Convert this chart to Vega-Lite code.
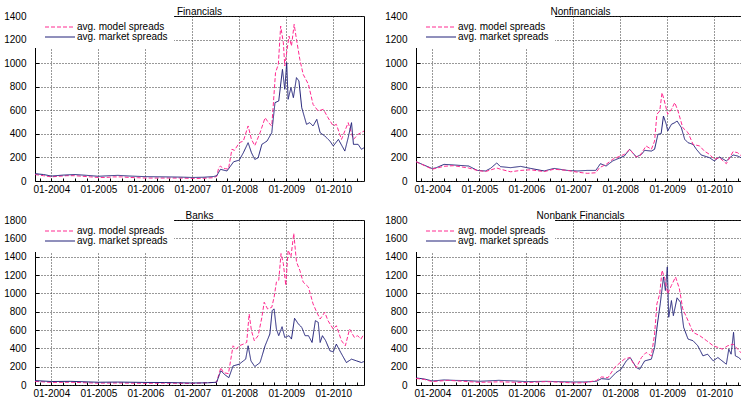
{
"$schema": "https://vega.github.io/schema/vega-lite/v6.json",
"padding": {"left": 3, "top": 6, "right": 0, "bottom": 0},
"datasets": {"d": [
{"p":"F","s":"m","d":"2003-08-27","v":55},{"p":"F","s":"m","d":"2003-11-01","v":45},{"p":"F","s":"m","d":"2004-01-01","v":35},{"p":"F","s":"m","d":"2004-03-01","v":40},{"p":"F","s":"m","d":"2004-05-01","v":45},{"p":"F","s":"m","d":"2004-07-01","v":45},{"p":"F","s":"m","d":"2004-09-01","v":40},{"p":"F","s":"m","d":"2004-11-01","v":35},{"p":"F","s":"m","d":"2005-01-01","v":30},{"p":"F","s":"m","d":"2005-03-01","v":30},{"p":"F","s":"m","d":"2005-05-01","v":35},{"p":"F","s":"m","d":"2005-07-01","v":35},{"p":"F","s":"m","d":"2005-09-01","v":30},{"p":"F","s":"m","d":"2005-11-01","v":28},{"p":"F","s":"m","d":"2006-01-01","v":25},{"p":"F","s":"m","d":"2006-04-01","v":25},{"p":"F","s":"m","d":"2006-07-01","v":25},{"p":"F","s":"m","d":"2006-10-01","v":25},{"p":"F","s":"m","d":"2007-01-01","v":22},{"p":"F","s":"m","d":"2007-03-01","v":22},{"p":"F","s":"m","d":"2007-05-01","v":25},{"p":"F","s":"m","d":"2007-06-15","v":28},{"p":"F","s":"m","d":"2007-07-10","v":40},{"p":"F","s":"m","d":"2007-07-25","v":110},{"p":"F","s":"m","d":"2007-08-08","v":127},{"p":"F","s":"m","d":"2007-08-25","v":110},{"p":"F","s":"m","d":"2007-09-15","v":105},{"p":"F","s":"m","d":"2007-10-09","v":100},{"p":"F","s":"m","d":"2007-11-05","v":269},{"p":"F","s":"m","d":"2007-11-25","v":260},{"p":"F","s":"m","d":"2008-01-01","v":325},{"p":"F","s":"m","d":"2008-02-02","v":339},{"p":"F","s":"m","d":"2008-03-10","v":467},{"p":"F","s":"m","d":"2008-04-05","v":353},{"p":"F","s":"m","d":"2008-05-01","v":300},{"p":"F","s":"m","d":"2008-06-11","v":410},{"p":"F","s":"m","d":"2008-07-20","v":537},{"p":"F","s":"m","d":"2008-08-15","v":495},{"p":"F","s":"m","d":"2008-09-10","v":467},{"p":"F","s":"m","d":"2008-09-21","v":636},{"p":"F","s":"m","d":"2008-10-09","v":919},{"p":"F","s":"m","d":"2008-10-31","v":990},{"p":"F","s":"m","d":"2008-11-18","v":1315},{"p":"F","s":"m","d":"2008-12-09","v":1173},{"p":"F","s":"m","d":"2008-12-20","v":976},{"p":"F","s":"m","d":"2009-01-22","v":1230},{"p":"F","s":"m","d":"2009-02-10","v":1145},{"p":"F","s":"m","d":"2009-03-03","v":1329},{"p":"F","s":"m","d":"2009-03-21","v":1202},{"p":"F","s":"m","d":"2009-04-16","v":1032},{"p":"F","s":"m","d":"2009-05-12","v":905},{"p":"F","s":"m","d":"2009-06-22","v":820},{"p":"F","s":"m","d":"2009-07-28","v":650},{"p":"F","s":"m","d":"2009-09-06","v":594},{"p":"F","s":"m","d":"2009-10-16","v":608},{"p":"F","s":"m","d":"2009-11-21","v":537},{"p":"F","s":"m","d":"2010-01-01","v":467},{"p":"F","s":"m","d":"2010-01-25","v":481},{"p":"F","s":"m","d":"2010-03-06","v":353},{"p":"F","s":"m","d":"2010-04-27","v":495},{"p":"F","s":"m","d":"2010-06-07","v":353},{"p":"F","s":"m","d":"2010-07-13","v":396},{"p":"F","s":"m","d":"2010-08-28","v":424},
{"p":"F","s":"k","d":"2003-08-27","v":62},{"p":"F","s":"k","d":"2003-11-01","v":55},{"p":"F","s":"k","d":"2004-01-01","v":42},{"p":"F","s":"k","d":"2004-04-01","v":50},{"p":"F","s":"k","d":"2004-07-01","v":55},{"p":"F","s":"k","d":"2004-10-01","v":48},{"p":"F","s":"k","d":"2005-01-01","v":40},{"p":"F","s":"k","d":"2005-04-01","v":45},{"p":"F","s":"k","d":"2005-06-01","v":48},{"p":"F","s":"k","d":"2005-09-01","v":42},{"p":"F","s":"k","d":"2006-01-01","v":37},{"p":"F","s":"k","d":"2006-06-01","v":35},{"p":"F","s":"k","d":"2006-10-01","v":33},{"p":"F","s":"k","d":"2007-01-01","v":30},{"p":"F","s":"k","d":"2007-04-01","v":32},{"p":"F","s":"k","d":"2007-06-15","v":38},{"p":"F","s":"k","d":"2007-07-10","v":45},{"p":"F","s":"k","d":"2007-08-08","v":99},{"p":"F","s":"k","d":"2007-09-28","v":85},{"p":"F","s":"k","d":"2007-11-18","v":163},{"p":"F","s":"k","d":"2008-01-01","v":177},{"p":"F","s":"k","d":"2008-02-02","v":240},{"p":"F","s":"k","d":"2008-03-10","v":325},{"p":"F","s":"k","d":"2008-04-05","v":240},{"p":"F","s":"k","d":"2008-05-01","v":183},{"p":"F","s":"k","d":"2008-05-27","v":197},{"p":"F","s":"k","d":"2008-06-25","v":311},{"p":"F","s":"k","d":"2008-08-04","v":339},{"p":"F","s":"k","d":"2008-09-10","v":410},{"p":"F","s":"k","d":"2008-10-05","v":665},{"p":"F","s":"k","d":"2008-11-03","v":679},{"p":"F","s":"k","d":"2008-12-02","v":947},{"p":"F","s":"k","d":"2008-12-20","v":778},{"p":"F","s":"k","d":"2009-01-04","v":1004},{"p":"F","s":"k","d":"2009-01-15","v":693},{"p":"F","s":"k","d":"2009-02-06","v":792},{"p":"F","s":"k","d":"2009-02-25","v":707},{"p":"F","s":"k","d":"2009-03-21","v":877},{"p":"F","s":"k","d":"2009-04-09","v":849},{"p":"F","s":"k","d":"2009-05-01","v":622},{"p":"F","s":"k","d":"2009-06-07","v":481},{"p":"F","s":"k","d":"2009-07-02","v":495},{"p":"F","s":"k","d":"2009-07-28","v":467},{"p":"F","s":"k","d":"2009-08-26","v":523},{"p":"F","s":"k","d":"2009-09-21","v":410},{"p":"F","s":"k","d":"2009-10-27","v":382},{"p":"F","s":"k","d":"2009-12-06","v":339},{"p":"F","s":"k","d":"2010-01-01","v":297},{"p":"F","s":"k","d":"2010-02-10","v":353},{"p":"F","s":"k","d":"2010-04-01","v":254},{"p":"F","s":"k","d":"2010-04-27","v":368},{"p":"F","s":"k","d":"2010-05-23","v":495},{"p":"F","s":"k","d":"2010-06-07","v":311},{"p":"F","s":"k","d":"2010-07-13","v":311},{"p":"F","s":"k","d":"2010-08-08","v":269},{"p":"F","s":"k","d":"2010-08-28","v":282},
{"p":"N","s":"k","d":"2003-08-27","v":164},{"p":"N","s":"k","d":"2004-01-01","v":105},{"p":"N","s":"k","d":"2004-02-01","v":113},{"p":"N","s":"k","d":"2004-04-01","v":141},{"p":"N","s":"k","d":"2004-06-15","v":136},{"p":"N","s":"k","d":"2004-10-10","v":127},{"p":"N","s":"k","d":"2004-12-15","v":90},{"p":"N","s":"k","d":"2005-02-17","v":85},{"p":"N","s":"k","d":"2005-03-28","v":107},{"p":"N","s":"k","d":"2005-05-16","v":153},{"p":"N","s":"k","d":"2005-06-14","v":122},{"p":"N","s":"k","d":"2005-09-01","v":113},{"p":"N","s":"k","d":"2005-11-18","v":124},{"p":"N","s":"k","d":"2006-02-02","v":107},{"p":"N","s":"k","d":"2006-05-20","v":85},{"p":"N","s":"k","d":"2006-08-04","v":107},{"p":"N","s":"k","d":"2006-11-14","v":90},{"p":"N","s":"k","d":"2007-02-02","v":85},{"p":"N","s":"k","d":"2007-04-20","v":90},{"p":"N","s":"k","d":"2007-06-25","v":90},{"p":"N","s":"k","d":"2007-07-31","v":147},{"p":"N","s":"k","d":"2007-09-13","v":127},{"p":"N","s":"k","d":"2007-11-03","v":170},{"p":"N","s":"k","d":"2008-01-01","v":198},{"p":"N","s":"k","d":"2008-02-02","v":212},{"p":"N","s":"k","d":"2008-03-14","v":269},{"p":"N","s":"k","d":"2008-05-05","v":204},{"p":"N","s":"k","d":"2008-06-14","v":226},{"p":"N","s":"k","d":"2008-07-09","v":260},{"p":"N","s":"k","d":"2008-08-30","v":254},{"p":"N","s":"k","d":"2008-09-24","v":269},{"p":"N","s":"k","d":"2008-10-20","v":396},{"p":"N","s":"k","d":"2008-11-14","v":402},{"p":"N","s":"k","d":"2008-12-02","v":551},{"p":"N","s":"k","d":"2008-12-24","v":481},{"p":"N","s":"k","d":"2009-01-04","v":424},{"p":"N","s":"k","d":"2009-02-02","v":481},{"p":"N","s":"k","d":"2009-02-28","v":495},{"p":"N","s":"k","d":"2009-03-18","v":509},{"p":"N","s":"k","d":"2009-04-20","v":453},{"p":"N","s":"k","d":"2009-05-16","v":354},{"p":"N","s":"k","d":"2009-06-11","v":325},{"p":"N","s":"k","d":"2009-07-20","v":311},{"p":"N","s":"k","d":"2009-08-15","v":269},{"p":"N","s":"k","d":"2009-09-21","v":221},{"p":"N","s":"k","d":"2009-11-25","v":198},{"p":"N","s":"k","d":"2010-01-01","v":170},{"p":"N","s":"k","d":"2010-02-10","v":204},{"p":"N","s":"k","d":"2010-04-05","v":170},{"p":"N","s":"k","d":"2010-05-27","v":221},{"p":"N","s":"k","d":"2010-07-02","v":212},{"p":"N","s":"k","d":"2010-08-08","v":192},{"p":"N","s":"k","d":"2010-08-28","v":195},
{"p":"N","s":"m","d":"2003-08-27","v":164},{"p":"N","s":"m","d":"2004-01-01","v":100},{"p":"N","s":"m","d":"2004-04-01","v":125},{"p":"N","s":"m","d":"2004-06-15","v":130},{"p":"N","s":"m","d":"2004-10-10","v":110},{"p":"N","s":"m","d":"2004-12-15","v":90},{"p":"N","s":"m","d":"2005-02-17","v":80},{"p":"N","s":"m","d":"2005-05-16","v":110},{"p":"N","s":"m","d":"2005-06-14","v":100},{"p":"N","s":"m","d":"2005-09-01","v":78},{"p":"N","s":"m","d":"2005-11-18","v":90},{"p":"N","s":"m","d":"2006-02-02","v":95},{"p":"N","s":"m","d":"2006-05-20","v":80},{"p":"N","s":"m","d":"2006-08-04","v":100},{"p":"N","s":"m","d":"2006-11-14","v":90},{"p":"N","s":"m","d":"2007-02-02","v":75},{"p":"N","s":"m","d":"2007-04-20","v":65},{"p":"N","s":"m","d":"2007-06-25","v":70},{"p":"N","s":"m","d":"2007-07-24","v":113},{"p":"N","s":"m","d":"2007-09-13","v":141},{"p":"N","s":"m","d":"2007-11-03","v":184},{"p":"N","s":"m","d":"2008-01-01","v":212},{"p":"N","s":"m","d":"2008-02-02","v":226},{"p":"N","s":"m","d":"2008-03-14","v":269},{"p":"N","s":"m","d":"2008-05-05","v":204},{"p":"N","s":"m","d":"2008-05-31","v":212},{"p":"N","s":"m","d":"2008-07-20","v":297},{"p":"N","s":"m","d":"2008-08-30","v":269},{"p":"N","s":"m","d":"2008-09-24","v":339},{"p":"N","s":"m","d":"2008-10-12","v":566},{"p":"N","s":"m","d":"2008-11-03","v":594},{"p":"N","s":"m","d":"2008-11-21","v":749},{"p":"N","s":"m","d":"2008-12-09","v":679},{"p":"N","s":"m","d":"2009-01-04","v":566},{"p":"N","s":"m","d":"2009-02-02","v":608},{"p":"N","s":"m","d":"2009-02-28","v":665},{"p":"N","s":"m","d":"2009-03-25","v":594},{"p":"N","s":"m","d":"2009-05-01","v":453},{"p":"N","s":"m","d":"2009-06-11","v":410},{"p":"N","s":"m","d":"2009-07-20","v":311},{"p":"N","s":"m","d":"2009-09-10","v":297},{"p":"N","s":"m","d":"2009-10-16","v":254},{"p":"N","s":"m","d":"2009-11-25","v":226},{"p":"N","s":"m","d":"2010-01-01","v":184},{"p":"N","s":"m","d":"2010-02-10","v":198},{"p":"N","s":"m","d":"2010-04-05","v":147},{"p":"N","s":"m","d":"2010-05-27","v":249},{"p":"N","s":"m","d":"2010-07-02","v":240},{"p":"N","s":"m","d":"2010-08-08","v":204},{"p":"N","s":"m","d":"2010-08-28","v":200},
{"p":"B","s":"m","d":"2003-08-27","v":40},{"p":"B","s":"m","d":"2004-01-01","v":28},{"p":"B","s":"m","d":"2004-06-01","v":30},{"p":"B","s":"m","d":"2005-01-01","v":20},{"p":"B","s":"m","d":"2005-06-01","v":22},{"p":"B","s":"m","d":"2006-01-01","v":18},{"p":"B","s":"m","d":"2006-06-01","v":20},{"p":"B","s":"m","d":"2007-01-01","v":17},{"p":"B","s":"m","d":"2007-05-01","v":25},{"p":"B","s":"m","d":"2007-07-09","v":30},{"p":"B","s":"m","d":"2007-08-11","v":190},{"p":"B","s":"m","d":"2007-08-30","v":135},{"p":"B","s":"m","d":"2007-10-09","v":124},{"p":"B","s":"m","d":"2007-11-14","v":428},{"p":"B","s":"m","d":"2007-12-09","v":391},{"p":"B","s":"m","d":"2008-01-01","v":428},{"p":"B","s":"m","d":"2008-02-02","v":446},{"p":"B","s":"m","d":"2008-02-28","v":464},{"p":"B","s":"m","d":"2008-03-18","v":775},{"p":"B","s":"m","d":"2008-04-05","v":592},{"p":"B","s":"m","d":"2008-04-27","v":483},{"p":"B","s":"m","d":"2008-05-27","v":538},{"p":"B","s":"m","d":"2008-06-25","v":739},{"p":"B","s":"m","d":"2008-07-13","v":903},{"p":"B","s":"m","d":"2008-08-08","v":830},{"p":"B","s":"m","d":"2008-09-10","v":848},{"p":"B","s":"m","d":"2008-09-28","v":958},{"p":"B","s":"m","d":"2008-10-16","v":1123},{"p":"B","s":"m","d":"2008-11-03","v":1141},{"p":"B","s":"m","d":"2008-11-21","v":1434},{"p":"B","s":"m","d":"2008-12-09","v":1324},{"p":"B","s":"m","d":"2008-12-28","v":1086},{"p":"B","s":"m","d":"2009-01-15","v":1471},{"p":"B","s":"m","d":"2009-02-06","v":1398},{"p":"B","s":"m","d":"2009-02-28","v":1654},{"p":"B","s":"m","d":"2009-03-21","v":1343},{"p":"B","s":"m","d":"2009-04-16","v":1251},{"p":"B","s":"m","d":"2009-05-12","v":1123},{"p":"B","s":"m","d":"2009-06-22","v":1068},{"p":"B","s":"m","d":"2009-07-28","v":885},{"p":"B","s":"m","d":"2009-08-26","v":793},{"p":"B","s":"m","d":"2009-09-21","v":720},{"p":"B","s":"m","d":"2009-10-27","v":793},{"p":"B","s":"m","d":"2009-11-21","v":702},{"p":"B","s":"m","d":"2010-01-01","v":610},{"p":"B","s":"m","d":"2010-01-25","v":647},{"p":"B","s":"m","d":"2010-03-06","v":483},{"p":"B","s":"m","d":"2010-04-05","v":428},{"p":"B","s":"m","d":"2010-05-08","v":610},{"p":"B","s":"m","d":"2010-06-14","v":519},{"p":"B","s":"m","d":"2010-07-09","v":538},{"p":"B","s":"m","d":"2010-08-04","v":501},{"p":"B","s":"m","d":"2010-08-28","v":556},
{"p":"B","s":"k","d":"2003-08-27","v":48},{"p":"B","s":"k","d":"2004-01-01","v":38},{"p":"B","s":"k","d":"2004-06-01","v":40},{"p":"B","s":"k","d":"2005-01-01","v":30},{"p":"B","s":"k","d":"2005-06-01","v":32},{"p":"B","s":"k","d":"2006-01-01","v":28},{"p":"B","s":"k","d":"2006-06-01","v":27},{"p":"B","s":"k","d":"2007-01-01","v":22},{"p":"B","s":"k","d":"2007-05-01","v":24},{"p":"B","s":"k","d":"2007-07-09","v":30},{"p":"B","s":"k","d":"2007-08-11","v":154},{"p":"B","s":"k","d":"2007-09-13","v":110},{"p":"B","s":"k","d":"2007-10-12","v":80},{"p":"B","s":"k","d":"2007-11-14","v":208},{"p":"B","s":"k","d":"2008-01-01","v":227},{"p":"B","s":"k","d":"2008-02-02","v":263},{"p":"B","s":"k","d":"2008-02-20","v":282},{"p":"B","s":"k","d":"2008-03-10","v":428},{"p":"B","s":"k","d":"2008-04-01","v":263},{"p":"B","s":"k","d":"2008-05-01","v":201},{"p":"B","s":"k","d":"2008-06-11","v":245},{"p":"B","s":"k","d":"2008-07-20","v":428},{"p":"B","s":"k","d":"2008-08-26","v":556},{"p":"B","s":"k","d":"2008-09-13","v":812},{"p":"B","s":"k","d":"2008-09-28","v":830},{"p":"B","s":"k","d":"2008-10-16","v":610},{"p":"B","s":"k","d":"2008-11-03","v":538},{"p":"B","s":"k","d":"2008-11-29","v":636},{"p":"B","s":"k","d":"2008-12-20","v":519},{"p":"B","s":"k","d":"2009-01-22","v":538},{"p":"B","s":"k","d":"2009-02-10","v":501},{"p":"B","s":"k","d":"2009-03-06","v":728},{"p":"B","s":"k","d":"2009-04-05","v":665},{"p":"B","s":"k","d":"2009-05-01","v":629},{"p":"B","s":"k","d":"2009-05-27","v":538},{"p":"B","s":"k","d":"2009-06-22","v":538},{"p":"B","s":"k","d":"2009-07-20","v":464},{"p":"B","s":"k","d":"2009-08-15","v":702},{"p":"B","s":"k","d":"2009-09-06","v":684},{"p":"B","s":"k","d":"2009-09-21","v":464},{"p":"B","s":"k","d":"2009-10-09","v":538},{"p":"B","s":"k","d":"2009-11-03","v":483},{"p":"B","s":"k","d":"2009-12-06","v":373},{"p":"B","s":"k","d":"2010-01-01","v":362},{"p":"B","s":"k","d":"2010-01-25","v":446},{"p":"B","s":"k","d":"2010-02-28","v":355},{"p":"B","s":"k","d":"2010-04-13","v":245},{"p":"B","s":"k","d":"2010-05-23","v":282},{"p":"B","s":"k","d":"2010-07-02","v":263},{"p":"B","s":"k","d":"2010-08-08","v":245},{"p":"B","s":"k","d":"2010-08-28","v":256},
{"p":"O","s":"k","d":"2003-08-27","v":77},{"p":"O","s":"k","d":"2003-11-01","v":65},{"p":"O","s":"k","d":"2004-01-01","v":44},{"p":"O","s":"k","d":"2004-04-01","v":55},{"p":"O","s":"k","d":"2004-07-01","v":50},{"p":"O","s":"k","d":"2004-10-01","v":48},{"p":"O","s":"k","d":"2005-01-01","v":40},{"p":"O","s":"k","d":"2005-06-01","v":51},{"p":"O","s":"k","d":"2005-10-01","v":44},{"p":"O","s":"k","d":"2006-01-01","v":37},{"p":"O","s":"k","d":"2006-06-01","v":40},{"p":"O","s":"k","d":"2006-10-01","v":36},{"p":"O","s":"k","d":"2007-01-01","v":33},{"p":"O","s":"k","d":"2007-04-01","v":33},{"p":"O","s":"k","d":"2007-06-29","v":40},{"p":"O","s":"k","d":"2007-08-08","v":69},{"p":"O","s":"k","d":"2007-10-09","v":62},{"p":"O","s":"k","d":"2007-11-29","v":135},{"p":"O","s":"k","d":"2008-01-08","v":172},{"p":"O","s":"k","d":"2008-02-17","v":263},{"p":"O","s":"k","d":"2008-03-18","v":300},{"p":"O","s":"k","d":"2008-05-05","v":190},{"p":"O","s":"k","d":"2008-05-31","v":172},{"p":"O","s":"k","d":"2008-07-09","v":263},{"p":"O","s":"k","d":"2008-08-30","v":282},{"p":"O","s":"k","d":"2008-09-24","v":410},{"p":"O","s":"k","d":"2008-10-16","v":665},{"p":"O","s":"k","d":"2008-11-07","v":885},{"p":"O","s":"k","d":"2008-12-02","v":1178},{"p":"O","s":"k","d":"2008-12-17","v":1031},{"p":"O","s":"k","d":"2009-01-01","v":1288},{"p":"O","s":"k","d":"2009-01-12","v":739},{"p":"O","s":"k","d":"2009-02-02","v":921},{"p":"O","s":"k","d":"2009-02-17","v":757},{"p":"O","s":"k","d":"2009-03-18","v":951},{"p":"O","s":"k","d":"2009-04-13","v":903},{"p":"O","s":"k","d":"2009-05-08","v":629},{"p":"O","s":"k","d":"2009-06-11","v":501},{"p":"O","s":"k","d":"2009-07-20","v":483},{"p":"O","s":"k","d":"2009-08-26","v":428},{"p":"O","s":"k","d":"2009-10-05","v":318},{"p":"O","s":"k","d":"2009-11-10","v":336},{"p":"O","s":"k","d":"2009-12-24","v":263},{"p":"O","s":"k","d":"2010-01-29","v":300},{"p":"O","s":"k","d":"2010-03-03","v":263},{"p":"O","s":"k","d":"2010-04-05","v":227},{"p":"O","s":"k","d":"2010-04-24","v":391},{"p":"O","s":"k","d":"2010-05-12","v":336},{"p":"O","s":"k","d":"2010-05-31","v":574},{"p":"O","s":"k","d":"2010-06-14","v":318},{"p":"O","s":"k","d":"2010-07-09","v":300},{"p":"O","s":"k","d":"2010-08-08","v":263},{"p":"O","s":"k","d":"2010-08-28","v":255},
{"p":"O","s":"m","d":"2003-08-27","v":72},{"p":"O","s":"m","d":"2003-11-01","v":60},{"p":"O","s":"m","d":"2004-01-01","v":37},{"p":"O","s":"m","d":"2004-05-01","v":51},{"p":"O","s":"m","d":"2004-09-01","v":40},{"p":"O","s":"m","d":"2005-01-01","v":29},{"p":"O","s":"m","d":"2005-06-01","v":35},{"p":"O","s":"m","d":"2005-10-01","v":30},{"p":"O","s":"m","d":"2006-01-01","v":26},{"p":"O","s":"m","d":"2006-06-01","v":37},{"p":"O","s":"m","d":"2006-10-01","v":30},{"p":"O","s":"m","d":"2007-01-01","v":22},{"p":"O","s":"m","d":"2007-04-01","v":25},{"p":"O","s":"m","d":"2007-06-29","v":49},{"p":"O","s":"m","d":"2007-08-08","v":88},{"p":"O","s":"m","d":"2007-09-28","v":80},{"p":"O","s":"m","d":"2007-11-18","v":190},{"p":"O","s":"m","d":"2008-01-01","v":245},{"p":"O","s":"m","d":"2008-02-02","v":282},{"p":"O","s":"m","d":"2008-03-14","v":300},{"p":"O","s":"m","d":"2008-05-05","v":190},{"p":"O","s":"m","d":"2008-06-14","v":300},{"p":"O","s":"m","d":"2008-07-20","v":355},{"p":"O","s":"m","d":"2008-08-30","v":318},{"p":"O","s":"m","d":"2008-09-24","v":556},{"p":"O","s":"m","d":"2008-10-12","v":885},{"p":"O","s":"m","d":"2008-11-03","v":995},{"p":"O","s":"m","d":"2008-11-21","v":1251},{"p":"O","s":"m","d":"2008-12-13","v":1160},{"p":"O","s":"m","d":"2009-01-04","v":995},{"p":"O","s":"m","d":"2009-02-02","v":1086},{"p":"O","s":"m","d":"2009-03-06","v":1178},{"p":"O","s":"m","d":"2009-04-05","v":1050},{"p":"O","s":"m","d":"2009-05-01","v":830},{"p":"O","s":"m","d":"2009-06-11","v":702},{"p":"O","s":"m","d":"2009-07-20","v":574},{"p":"O","s":"m","d":"2009-09-10","v":538},{"p":"O","s":"m","d":"2009-11-03","v":483},{"p":"O","s":"m","d":"2009-12-24","v":428},{"p":"O","s":"m","d":"2010-01-29","v":410},{"p":"O","s":"m","d":"2010-03-06","v":391},{"p":"O","s":"m","d":"2010-04-16","v":428},{"p":"O","s":"m","d":"2010-05-27","v":446},{"p":"O","s":"m","d":"2010-07-02","v":391},{"p":"O","s":"m","d":"2010-08-08","v":336},{"p":"O","s":"m","d":"2010-08-28","v":320}
]},
"data": {"name": "d"},
"config": {
  "font": "Liberation Sans",
  "view": {"stroke": "black", "strokeWidth": 1},
  "title": {"font": "Liberation Sans", "fontSize": 10, "fontWeight": "normal", "color": "black", "offset": -6, "frame": "group"},
  "axis": {"labelFont": "Liberation Sans", "labelFontSize": 10, "labelColor": "black", "domain": false, "tickColor": "black", "grid": true, "gridColor": "#333", "gridDash": [1, 2], "labelOverlap": false, "labelBound": false, "labelFlush": false, "title": null},
  "legend": {"orient": "top-left", "offset": 0, "fillColor": "white", "padding": 6, "symbolType": "M-3.75,0H3.75", "symbolSize": 64, "symbolStrokeWidth": 1, "labelFont": "Liberation Sans", "labelFontSize": 10, "labelColor": "black", "rowPadding": -2, "symbolOffset": 14, "labelOffset": 12, "title": null}
},
"columns": 2,
"spacing": {"row": 39, "column": 52},
"bounds": "flush",
"resolve": {"scale": {"x": "independent", "y": "independent", "color": "independent", "strokeDash": "independent"}, "legend": {"color": "independent", "strokeDash": "independent"}},
"concat": [
  {"width": 329, "height": 165, "title": "Financials",
   "transform": [{"filter": "datum.p == 'F'"}],
   "mark": {"type": "line", "strokeWidth": 1, "clip": true},
   "encoding": {
    "x": {"field": "d", "type": "temporal", "scale": {"type": "utc", "domain": [{"year": 2003, "month": 8, "date": 27, "utc": true}, {"year": 2010, "month": 8, "date": 28, "utc": true}]}, "axis": {"tickCount": {"interval": "month", "step": 3}, "labelExpr": "utcmonth(datum.value) == 0 ? utcFormat(datum.value, '%m-%Y') : ''", "gridOpacity": {"condition": {"test": "utcmonth(datum.value) == 0", "value": 1}, "value": 0}, "tickSize": -3, "labelPadding": 6}},
    "y": {"field": "v", "type": "quantitative", "scale": {"domain": [0, 1400]}, "axis": {"values": [0, 200, 400, 600, 800, 1000, 1200, 1400], "format": "d", "tickSize": -4, "labelPadding": 13}},
    "color": {"field": "s", "type": "nominal", "scale": {"domain": ["m", "k"], "range": ["#ff2a90", "#202078"]}, "legend": {"labelExpr": "datum.label == 'm' ? 'avg. model spreads' : 'avg. market spreads'"}},
    "strokeDash": {"field": "s", "type": "nominal", "scale": {"domain": ["m", "k"], "range": [[4, 2], [1, 0]]}, "legend": {"labelExpr": "datum.label == 'm' ? 'avg. model spreads' : 'avg. market spreads'"}}
   }},
  {"width": 329, "height": 165, "title": "Nonfinancials",
   "transform": [{"filter": "datum.p == 'N'"}],
   "mark": {"type": "line", "strokeWidth": 1, "clip": true},
   "encoding": {
    "x": {"field": "d", "type": "temporal", "scale": {"type": "utc", "domain": [{"year": 2003, "month": 8, "date": 27, "utc": true}, {"year": 2010, "month": 8, "date": 28, "utc": true}]}, "axis": {"tickCount": {"interval": "month", "step": 3}, "labelExpr": "utcmonth(datum.value) == 0 ? utcFormat(datum.value, '%m-%Y') : ''", "gridOpacity": {"condition": {"test": "utcmonth(datum.value) == 0", "value": 1}, "value": 0}, "tickSize": -3, "labelPadding": 6}},
    "y": {"field": "v", "type": "quantitative", "scale": {"domain": [0, 1400]}, "axis": {"values": [0, 200, 400, 600, 800, 1000, 1200, 1400], "format": "d", "tickSize": -4, "labelPadding": 13}},
    "color": {"field": "s", "type": "nominal", "scale": {"domain": ["m", "k"], "range": ["#ff2a90", "#202078"]}, "legend": {"labelExpr": "datum.label == 'm' ? 'avg. model spreads' : 'avg. market spreads'"}},
    "strokeDash": {"field": "s", "type": "nominal", "scale": {"domain": ["m", "k"], "range": [[4, 2], [1, 0]]}, "legend": {"labelExpr": "datum.label == 'm' ? 'avg. model spreads' : 'avg. market spreads'"}}
   }},
  {"width": 329, "height": 165, "title": "Banks",
   "transform": [{"filter": "datum.p == 'B'"}],
   "mark": {"type": "line", "strokeWidth": 1, "clip": true},
   "encoding": {
    "x": {"field": "d", "type": "temporal", "scale": {"type": "utc", "domain": [{"year": 2003, "month": 8, "date": 27, "utc": true}, {"year": 2010, "month": 8, "date": 28, "utc": true}]}, "axis": {"tickCount": {"interval": "month", "step": 3}, "labelExpr": "utcmonth(datum.value) == 0 ? utcFormat(datum.value, '%m-%Y') : ''", "gridOpacity": {"condition": {"test": "utcmonth(datum.value) == 0", "value": 1}, "value": 0}, "tickSize": -3, "labelPadding": 6}},
    "y": {"field": "v", "type": "quantitative", "scale": {"domain": [0, 1800]}, "axis": {"values": [0, 200, 400, 600, 800, 1000, 1200, 1400, 1600, 1800], "format": "d", "tickSize": -4, "labelPadding": 13}},
    "color": {"field": "s", "type": "nominal", "scale": {"domain": ["m", "k"], "range": ["#ff2a90", "#202078"]}, "legend": {"labelExpr": "datum.label == 'm' ? 'avg. model spreads' : 'avg. market spreads'"}},
    "strokeDash": {"field": "s", "type": "nominal", "scale": {"domain": ["m", "k"], "range": [[4, 2], [1, 0]]}, "legend": {"labelExpr": "datum.label == 'm' ? 'avg. model spreads' : 'avg. market spreads'"}}
   }},
  {"width": 329, "height": 165, "title": "Nonbank Financials",
   "transform": [{"filter": "datum.p == 'O'"}],
   "mark": {"type": "line", "strokeWidth": 1, "clip": true},
   "encoding": {
    "x": {"field": "d", "type": "temporal", "scale": {"type": "utc", "domain": [{"year": 2003, "month": 8, "date": 27, "utc": true}, {"year": 2010, "month": 8, "date": 28, "utc": true}]}, "axis": {"tickCount": {"interval": "month", "step": 3}, "labelExpr": "utcmonth(datum.value) == 0 ? utcFormat(datum.value, '%m-%Y') : ''", "gridOpacity": {"condition": {"test": "utcmonth(datum.value) == 0", "value": 1}, "value": 0}, "tickSize": -3, "labelPadding": 6}},
    "y": {"field": "v", "type": "quantitative", "scale": {"domain": [0, 1800]}, "axis": {"values": [0, 200, 400, 600, 800, 1000, 1200, 1400, 1600, 1800], "format": "d", "tickSize": -4, "labelPadding": 13}},
    "color": {"field": "s", "type": "nominal", "scale": {"domain": ["m", "k"], "range": ["#ff2a90", "#202078"]}, "legend": {"labelExpr": "datum.label == 'm' ? 'avg. model spreads' : 'avg. market spreads'"}},
    "strokeDash": {"field": "s", "type": "nominal", "scale": {"domain": ["m", "k"], "range": [[4, 2], [1, 0]]}, "legend": {"labelExpr": "datum.label == 'm' ? 'avg. model spreads' : 'avg. market spreads'"}}
   }}
]
}
